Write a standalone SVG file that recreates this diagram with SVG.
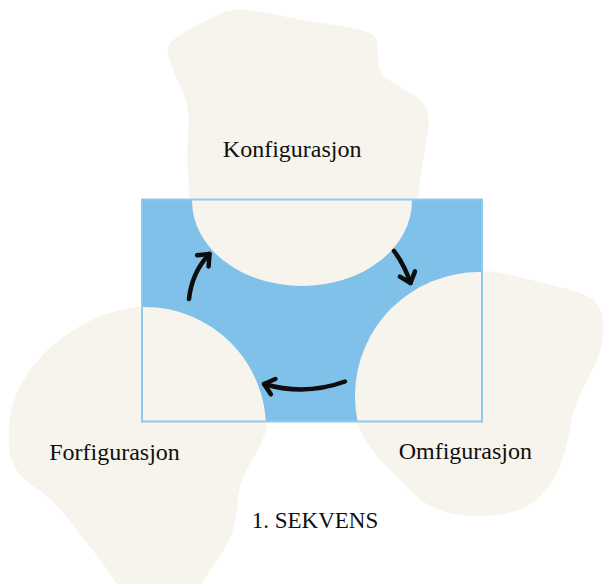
<svg xmlns="http://www.w3.org/2000/svg" width="603" height="584" viewBox="0 0 603 584">
  <defs>
    <style>
      .blob { fill: #f6f4ec; }
      .cap { fill: #f6f4ec; }
      .label { font-family: "Liberation Serif", "Times New Roman", serif; font-size: 24px; fill: #0f0f0f; text-anchor: middle; }
      .arrow { fill: none; stroke: #0d0d0d; stroke-width: 4.5; stroke-linecap: round; stroke-linejoin: round; marker-end: url(#head); }
    </style>
    <clipPath id="outside">
      <path clip-rule="evenodd" d="M-10,-10H613V594H-10Z M142,199.5V421.5H482V199.5Z"/>
    </clipPath>
    <clipPath id="inside">
      <rect x="142" y="199.5" width="340" height="222"/>
    </clipPath>
    <marker id="head" markerUnits="userSpaceOnUse" orient="auto" overflow="visible" refX="0" refY="0" markerWidth="20" markerHeight="20">
      <path d="M-9.5,-8 L0,0 L-9.5,8" fill="none" stroke="#0d0d0d" stroke-width="4.5" stroke-linecap="round" stroke-linejoin="round"/>
    </marker>
  </defs>

  <g id="frame-fill">
    <rect x="142" y="199.5" width="340" height="222" fill="#80c1e9"/>
  </g>

  <g id="node-konfigurasjon">
    <path class="blob" clip-path="url(#outside)" d="M189.5,201 Q189,187 188,173.5 Q187,160 187.5,150 Q188,140 188.5,122.5 Q189,105 183.5,93.5 Q178,82 174,72 Q170,62 168.5,56 Q167,50 168.5,46 Q170,42 176.5,37.5 Q183,33 196.5,25.5 Q210,18 221,13.5 Q232,9 246,10 Q260,11 280,15.5 Q300,20 325,23.5 Q350,27 361.5,30 Q373,33 375.5,38 Q378,43 378,55 Q378,67 380.5,72 Q383,77 400,87 Q417,97 422,102 Q427,107 428,113.5 Q429,120 428,130 Q427,140 424.5,153.5 Q422,167 420,180 Q418,193 418,204 L418,215 L190,215 Z"/>
    <ellipse class="cap" clip-path="url(#inside)" cx="302" cy="201" rx="110" ry="85"/>
    <text class="label" x="292.2" y="156.7">Konfigurasjon</text>
  </g>

  <g id="node-forfigurasjon">
    <path class="blob" clip-path="url(#outside)" d="M142,306 L129.5,308 Q117,310 100,316.5 Q83,323 66.5,334.5 Q50,346 38.5,359.5 Q27,373 20,386.5 Q13,400 10.5,415 Q8,430 9,445 Q10,460 16.5,470 Q23,480 35,487.5 Q47,495 57,506 Q67,517 77,530 Q87,543 98.5,558 Q110,573 116,582.5 Q122,592 140,592 L196,592 Q203,581 203,581 Q210,570 219,557.5 Q228,545 232.5,531 Q237,517 237.5,504.5 Q238,492 241.5,482 Q245,472 251.5,461 Q258,450 262,441 Q266,432 266.5,426.5 Q267,421 267,412 L150,320 Z"/>
    <circle class="cap" clip-path="url(#inside)" cx="145" cy="428" r="121"/>
    <text class="label" x="114.5" y="460">Forfigurasjon</text>
  </g>

  <g id="node-omfigurasjon">
    <path class="blob" clip-path="url(#outside)" d="M475,271 L491.5,271.5 Q500,272 513.5,275.5 Q527,279 541,282.5 Q555,286 567.5,289 Q580,292 588.5,297 Q597,302 600.5,310 Q604,318 603.5,331.5 Q603,345 597.5,358.5 Q592,372 586,382.5 Q580,393 576,404 Q572,415 570,428.5 Q568,442 563.5,456 Q559,470 551,483 Q543,496 530.5,504 Q518,512 500.5,514.5 Q483,517 465,515.5 Q447,514 433.5,507.5 Q420,501 409,489.5 Q398,478 386.5,466.5 Q375,455 368.5,445 Q362,435 359.5,428 Q357,421 357,410 L357,400 Z"/>
    <circle class="cap" clip-path="url(#inside)" cx="479" cy="396" r="124"/>
    <text class="label" x="465.3" y="459">Omfigurasjon</text>
  </g>

  <g id="frame-border">
    <rect x="142" y="199.5" width="340" height="222" fill="none" stroke="#8dcaf0" stroke-width="2"/>
  </g>

  <g id="connectors">
    <path class="arrow" d="M189,299 Q192,272 209.5,254"/>
    <path class="arrow" d="M394,251 Q404,264 410.5,283"/>
    <path class="arrow" d="M345,381.5 Q305,396 264,384"/>
  </g>

  <g id="title">
    <text class="label" x="315" y="528" style="font-size:23px">1. SEKVENS</text>
  </g>
</svg>
